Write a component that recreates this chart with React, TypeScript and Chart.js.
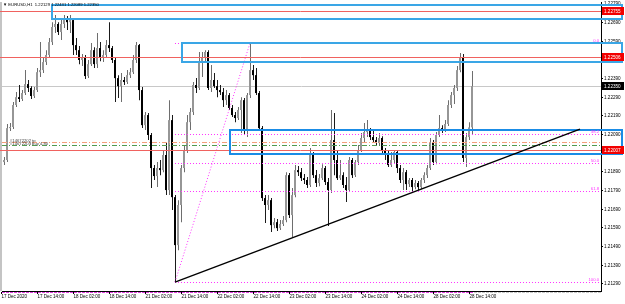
import React, { useEffect, useRef } from "react";
import { Chart, registerables } from "chart.js";
Chart.register(...registerables);

const symbol = "EURUSD,H1";

const opens = [
  1.21965, 1.21943, 1.21954, 1.22125, 1.22131, 1.22249, 1.22291, 1.22281, 1.22313, 1.22361,
  1.22340, 1.22297, 1.22329, 1.22425, 1.22436, 1.22479, 1.22517, 1.22586, 1.22667, 1.22683,
  1.22640, 1.22683, 1.22715, 1.22693, 1.22704, 1.22570, 1.22543, 1.22490, 1.22506, 1.22404,
  1.22468, 1.22543, 1.22468, 1.22554, 1.22501, 1.22517, 1.22570, 1.22554, 1.22490, 1.22393,
  1.22350, 1.22383, 1.22372, 1.22409, 1.22425, 1.22490, 1.22570, 1.22329, 1.22141, 1.22195,
  1.22088, 1.21911, 1.21868, 1.21911, 1.21900, 1.21981, 1.21793, 1.22168, 1.21755, 1.21498,
  1.21713, 1.21911, 1.22007, 1.22157, 1.22211, 1.22356, 1.22340, 1.22479, 1.22501, 1.22533,
  1.22340, 1.22383, 1.22350, 1.22329, 1.22318, 1.22275, 1.22302, 1.22233, 1.22195, 1.22179,
  1.22222, 1.22275, 1.22115, 1.22302, 1.22436, 1.22409, 1.22313, 1.22125, 1.21750, 1.21713,
  1.21739, 1.21605, 1.21621, 1.21589, 1.21611, 1.21632, 1.21873, 1.21659, 1.21766, 1.21900,
  1.21889, 1.21857, 1.21847, 1.21820, 1.21981, 1.21873, 1.21831, 1.21857, 1.21911, 1.21836,
  1.21793, 1.22061, 1.21954, 1.21857, 1.21873, 1.21820, 1.21793, 1.21954, 1.21873, 1.21943,
  1.22007, 1.22072, 1.22104, 1.22115, 1.22077, 1.22061, 1.22045, 1.22072, 1.22007, 1.21981,
  1.21927, 1.21954, 1.21997, 1.21911, 1.21847, 1.21889, 1.21825, 1.21847, 1.21809, 1.21831,
  1.21809, 1.21847, 1.21873, 1.21911, 1.22050, 1.21943, 1.22088, 1.22125, 1.22115, 1.22147,
  1.22249, 1.22302, 1.22340, 1.22436, 1.22506, 1.21965, 1.22077, 1.22129,
];

const highs = [
  1.21981, 1.21970, 1.22147, 1.22152, 1.22265, 1.22318, 1.22356, 1.22329, 1.22436, 1.22383,
  1.22350, 1.22345, 1.22447, 1.22586, 1.22501, 1.22543, 1.22608, 1.22693, 1.22731, 1.22693,
  1.22704, 1.22731, 1.22726, 1.22731, 1.22715, 1.22608, 1.22565, 1.22522, 1.22517, 1.22490,
  1.22581, 1.22559, 1.22635, 1.22586, 1.22543, 1.22597, 1.22693, 1.22565, 1.22501, 1.22409,
  1.22420, 1.22399, 1.22436, 1.22447, 1.22517, 1.22586, 1.22576, 1.22345, 1.22211, 1.22206,
  1.22099, 1.21927, 1.21943, 1.21954, 1.22007, 1.22045, 1.22275, 1.22195, 1.21766, 1.21739,
  1.21927, 1.22034, 1.22195, 1.22233, 1.22372, 1.22393, 1.22533, 1.22533, 1.22543, 1.22543,
  1.22463, 1.22420, 1.22383, 1.22356, 1.22340, 1.22329, 1.22313, 1.22249, 1.22211, 1.22238,
  1.22291, 1.22286, 1.22313, 1.22581, 1.22463, 1.22447, 1.22324, 1.22136, 1.21766, 1.21766,
  1.21750, 1.21643, 1.21638, 1.21632, 1.21654, 1.21889, 1.21884, 1.21804, 1.21927, 1.21922,
  1.21911, 1.21879, 1.21863, 1.22018, 1.21997, 1.21900, 1.21879, 1.21932, 1.21922, 1.21857,
  1.22222, 1.22206, 1.22007, 1.21954, 1.21889, 1.21863, 1.21970, 1.21965, 1.21954, 1.22034,
  1.22099, 1.22152, 1.22168, 1.22125, 1.22115, 1.22077, 1.22099, 1.22082, 1.22018, 1.22007,
  1.21997, 1.22007, 1.22007, 1.21927, 1.21911, 1.21900, 1.21857, 1.21857, 1.21847, 1.21841,
  1.21857, 1.21889, 1.21927, 1.22072, 1.22061, 1.22104, 1.22195, 1.22141, 1.22168, 1.22275,
  1.22318, 1.22356, 1.22458, 1.22527, 1.22522, 1.22099, 1.22157, 1.22431,
];

const lows = [
  1.21900, 1.21927, 1.21943, 1.22109, 1.22120, 1.22238, 1.22265, 1.22270, 1.22302, 1.22318,
  1.22281, 1.22286, 1.22318, 1.22399, 1.22420, 1.22463, 1.22506, 1.22570, 1.22635, 1.22624,
  1.22597, 1.22661, 1.22651, 1.22635, 1.22517, 1.22517, 1.22468, 1.22458, 1.22388, 1.22393,
  1.22458, 1.22447, 1.22447, 1.22484, 1.22479, 1.22501, 1.22533, 1.22474, 1.22265, 1.22286,
  1.22265, 1.22356, 1.22361, 1.22393, 1.22415, 1.22474, 1.22275, 1.22125, 1.22115, 1.22061,
  1.21804, 1.21847, 1.21809, 1.21873, 1.21889, 1.21766, 1.21766, 1.21686, 1.21300, 1.21471,
  1.21621, 1.21889, 1.21991, 1.22115, 1.22195, 1.22313, 1.22329, 1.22399, 1.22474, 1.22329,
  1.22318, 1.22340, 1.22291, 1.22302, 1.22238, 1.22249, 1.22222, 1.22184, 1.22157, 1.22168,
  1.22099, 1.22088, 1.22077, 1.22286, 1.22383, 1.22302, 1.22109, 1.21734, 1.21616, 1.21686,
  1.21568, 1.21589, 1.21573, 1.21579, 1.21600, 1.21621, 1.21643, 1.21541, 1.21755, 1.21868,
  1.21841, 1.21825, 1.21804, 1.21809, 1.21857, 1.21809, 1.21814, 1.21847, 1.21820, 1.21600,
  1.21777, 1.21873, 1.21847, 1.21847, 1.21804, 1.21729, 1.21782, 1.21857, 1.21863, 1.21927,
  1.21997, 1.22050, 1.22077, 1.22061, 1.22050, 1.22029, 1.22034, 1.21991, 1.21954, 1.21916,
  1.21916, 1.21938, 1.21884, 1.21831, 1.21793, 1.21793, 1.21809, 1.21782, 1.21798, 1.21793,
  1.21798, 1.21831, 1.21857, 1.21900, 1.21927, 1.21932, 1.22077, 1.22099, 1.22104, 1.22136,
  1.22233, 1.22254, 1.22324, 1.22425, 1.21943, 1.21916, 1.22061, 1.22089,
];

const closes = [
  1.21943, 1.21954, 1.22125, 1.22131, 1.22249, 1.22291, 1.22281, 1.22313, 1.22361, 1.22340,
  1.22297, 1.22329, 1.22425, 1.22436, 1.22479, 1.22517, 1.22586, 1.22667, 1.22683, 1.22640,
  1.22683, 1.22715, 1.22693, 1.22704, 1.22570, 1.22543, 1.22490, 1.22506, 1.22404, 1.22468,
  1.22543, 1.22468, 1.22554, 1.22501, 1.22517, 1.22570, 1.22554, 1.22490, 1.22393, 1.22350,
  1.22383, 1.22372, 1.22409, 1.22425, 1.22490, 1.22570, 1.22329, 1.22141, 1.22195, 1.22088,
  1.21911, 1.21868, 1.21911, 1.21900, 1.21981, 1.21793, 1.22168, 1.21755, 1.21498, 1.21713,
  1.21911, 1.22007, 1.22157, 1.22211, 1.22356, 1.22340, 1.22479, 1.22501, 1.22533, 1.22340,
  1.22383, 1.22350, 1.22329, 1.22318, 1.22275, 1.22302, 1.22233, 1.22195, 1.22179, 1.22222,
  1.22275, 1.22115, 1.22302, 1.22436, 1.22409, 1.22313, 1.22125, 1.21750, 1.21713, 1.21739,
  1.21605, 1.21621, 1.21589, 1.21611, 1.21632, 1.21873, 1.21659, 1.21766, 1.21900, 1.21889,
  1.21857, 1.21847, 1.21820, 1.21981, 1.21873, 1.21831, 1.21857, 1.21911, 1.21836, 1.21793,
  1.22061, 1.21954, 1.21857, 1.21873, 1.21820, 1.21793, 1.21954, 1.21873, 1.21943, 1.22007,
  1.22072, 1.22104, 1.22115, 1.22077, 1.22061, 1.22045, 1.22072, 1.22007, 1.21981, 1.21927,
  1.21954, 1.21997, 1.21911, 1.21847, 1.21889, 1.21825, 1.21847, 1.21809, 1.21831, 1.21809,
  1.21847, 1.21873, 1.21911, 1.22050, 1.21943, 1.22088, 1.22125, 1.22115, 1.22147, 1.22249,
  1.22302, 1.22340, 1.22436, 1.22506, 1.21965, 1.22077, 1.22129, 1.22350,
];

// time axis labels, one every 12 bars starting at bar 0
const timeLabels = [
  "17 Dec 2020", "17 Dec 14:00", "18 Dec 02:00", "18 Dec 14:00", "21 Dec 02:00",
  "21 Dec 14:00", "22 Dec 02:00", "22 Dec 14:00", "23 Dec 02:00", "23 Dec 14:00",
  "24 Dec 02:00", "24 Dec 14:00", "28 Dec 02:00", "28 Dec 14:00",
];
const barsPerLabel = 12;

const priceTicks = [
  1.2129, 1.2139, 1.2149, 1.2159, 1.2169, 1.2179, 1.2189, 1.2199,
  1.2209, 1.2219, 1.2229, 1.2239, 1.2249, 1.2259, 1.2269, 1.2279,
];
const priceMin = 1.21252;
const priceMax = 1.22801;
const barSlots = 199.667;

// horizontal levels
const redLevels = [1.22755, 1.22506, 1.22007];
const orderLevels = [1.2205, 1.22034];
const orderColors = ["#f4a07a", "#4f9a4f"];
const orderTexts = ["#14672202 tp", "#14672203 buy 4.80"];

// rectangles (bar index / price)
const zoneStart = [17, 60.5, 76.5];
const zoneEnd = [207, 207, 207];
const zoneTop = [1.22785, 1.22581, 1.22115];
const zoneBottom = [1.2271, 1.22479, 1.21986];
const zoneColors = ["#3aa6e6", "#3aa6e6", "#1a8ce6"];

// fibonacci retracement
const fibLowBar = 58;
const fibHighBar = 83;
const fibLevels = [0, 38.2, 50, 61.8, 100];

// trendline
const trendBars = [58, 193];
const trendPrices = [1.213, 1.2212];

const FONT = "'Liberation Sans', Arial, sans-serif";
const WICK_SHIFT = 1 / 6; // half a pixel, keeps the 1px wick on a pixel column

function crisp(v: number) {
  return Math.round(v) + 0.5;
}

const overlayPlugin = {
  id: "mtOverlay",
  beforeDatasetsDraw(chart: any) {
    const { ctx, chartArea: a } = chart;
    const ys = chart.scales.y;
    ctx.save();
    ctx.fillStyle = "#c4c4c4";
    ctx.fillRect(0, a.top, a.left, a.bottom - a.top);
    const by = crisp(ys.getPixelForValue(closes[closes.length - 1]));
    ctx.strokeStyle = "#c8c8c8";
    ctx.lineWidth = 1;
    ctx.beginPath();
    ctx.moveTo(a.left, by);
    ctx.lineTo(a.right, by);
    ctx.stroke();
    ctx.restore();
  },
  afterDatasetsDraw(chart: any) {
    const { ctx, chartArea: a } = chart;
    const xs = chart.scales.x;
    const ys = chart.scales.y;
    const X = (v: number) => xs.getPixelForValue(v);
    const Y = (v: number) => ys.getPixelForValue(v);
    ctx.save();

    // fibonacci levels
    const fLow = lows[fibLowBar];
    const fHigh = highs[fibHighBar];
    ctx.strokeStyle = "#ff33ff";
    ctx.lineWidth = 1;
    ctx.setLineDash([1, 2]);
    fibLevels.forEach((lv) => {
      const p = fHigh - ((fHigh - fLow) * lv) / 100;
      const y = crisp(Y(p));
      ctx.beginPath();
      ctx.moveTo(X(fibLowBar), y);
      ctx.lineTo(a.right, y);
      ctx.stroke();
    });
    ctx.beginPath();
    ctx.moveTo(X(fibLowBar), Y(fLow));
    ctx.lineTo(X(fibHighBar), Y(fHigh));
    ctx.stroke();

    // order lines
    ctx.setLineDash([5, 2, 1, 2]);
    orderLevels.forEach((p, k) => {
      const y = crisp(Y(p));
      ctx.strokeStyle = orderColors[k];
      ctx.beginPath();
      ctx.moveTo(a.left, y);
      ctx.lineTo(a.right, y);
      ctx.stroke();
    });
    ctx.setLineDash([]);

    // red levels
    ctx.strokeStyle = "#f0625f";
    redLevels.forEach((p) => {
      const y = crisp(Y(p));
      ctx.beginPath();
      ctx.moveTo(a.left - 2, y);
      ctx.lineTo(a.right, y);
      ctx.stroke();
    });

    // rectangles
    ctx.lineWidth = 2;
    zoneStart.forEach((s, k) => {
      const x1 = Math.round(X(s));
      const x2 = Math.round(X(zoneEnd[k]));
      const y1 = Math.round(Y(zoneTop[k]));
      const y2 = Math.round(Y(zoneBottom[k]));
      ctx.strokeStyle = zoneColors[k];
      ctx.strokeRect(x1, y1, x2 - x1, y2 - y1);
    });

    // trendline
    ctx.strokeStyle = "#000";
    ctx.lineWidth = 1.4;
    ctx.beginPath();
    ctx.moveTo(X(trendBars[0]), Y(trendPrices[0]));
    ctx.lineTo(X(trendBars[1]), Y(trendPrices[1]));
    ctx.stroke();
    ctx.restore();
  },
  afterDraw(chart: any) {
    const { ctx, chartArea: a } = chart;
    const xs = chart.scales.x;
    const ys = chart.scales.y;
    const X = (v: number) => xs.getPixelForValue(v);
    const Y = (v: number) => ys.getPixelForValue(v);
    ctx.save();

    // fib labels
    const fLow = lows[fibLowBar];
    const fHigh = highs[fibHighBar];
    ctx.font = `4.2px ${FONT}`;
    ctx.fillStyle = "#ff33ff";
    ctx.textAlign = "right";
    ctx.textBaseline = "alphabetic";
    fibLevels.forEach((lv) => {
      const p = fHigh - ((fHigh - fLow) * lv) / 100;
      ctx.fillText(lv.toFixed(1), a.right - 2, Y(p) - 1);
    });

    // order texts
    ctx.textAlign = "left";
    ctx.fillStyle = "#404040";
    orderLevels.forEach((p, k) => {
      ctx.fillText(orderTexts[k], a.left + 8, Y(p) - 0.5);
    });

    // bottom strip
    const lastX = X(closes.length - 1) + 2;
    ctx.lineWidth = 1;
    ctx.setLineDash([3, 1]);
    ctx.strokeStyle = "#e040e0";
    ctx.beginPath();
    ctx.moveTo(a.left, a.bottom + 1.5);
    ctx.lineTo(lastX, a.bottom + 1.5);
    ctx.stroke();
    ctx.strokeStyle = "#c8c8c8";
    ctx.beginPath();
    ctx.moveTo(lastX, a.bottom + 1.5);
    ctx.lineTo(a.right, a.bottom + 1.5);
    ctx.stroke();
    ctx.setLineDash([]);

    // price labels on the axis
    ctx.font = `4.6px ${FONT}`;
    ctx.textBaseline = "middle";
    const tag = (p: number, bg: string) => {
      const y = Math.round(Y(p));
      ctx.fillStyle = bg;
      ctx.fillRect(a.right + 1, y - 4, 22, 8);
      ctx.fillStyle = "#fff";
      ctx.fillText(p.toFixed(5), a.right + 3, y + 0.5);
    };
    redLevels.forEach((p) => tag(p, "#f20000"));
    tag(closes[closes.length - 1], "#000");

    // title
    const n = closes.length - 1;
    ctx.fillStyle = "#000";
    ctx.font = `4.2px ${FONT}`;
    ctx.textBaseline = "middle";
    ctx.fillText(
      `\u25BC ${symbol}  ${opens[n].toFixed(5)} ${highs[n].toFixed(5)} ${lows[n].toFixed(5)} ${closes[n].toFixed(5)}`,
      a.left + 1,
      a.top + 3
    );
    ctx.restore();
  },
};

export default function App() {
  const ref = useRef<HTMLCanvasElement | null>(null);
  useEffect(() => {
    document.body.style.margin = "0";
    const canvas = ref.current;
    if (!canvas) return;
    const bull = opens.map((o, i) => closes[i] >= o);
    const chart = new Chart(canvas, {
      type: "bar",
      data: {
        datasets: [
          {
            label: "wick",
            data: lows.map((l, i) => ({ x: i + WICK_SHIFT, y: [l, highs[i]] })) as any,
            backgroundColor: bull.map((b) => (b ? "#6e6e6e" : "#1a1a1a")),
            barThickness: 1,
            grouped: false,
            order: 2,
            inflateAmount: 0,
          } as any,
          {
            label: "body",
            data: opens.map((o, i) => ({ x: i, y: [o, closes[i]] })) as any,
            backgroundColor: bull.map((b) => (b ? "#969696" : "#000000")),
            borderWidth: 0,
            borderSkipped: false,
            barThickness: 2,
            grouped: false,
            order: 1,
            inflateAmount: 0,
          } as any,
        ],
      },
      options: {
        responsive: false,
        maintainAspectRatio: false,
        animation: false,
        devicePixelRatio: 1,
        events: [],
        layout: { padding: { left: 2, top: 2, right: 0, bottom: 0 } },
        plugins: { legend: { display: false }, tooltip: { enabled: false } },
        scales: {
          x: {
            type: "linear",
            offset: false,
            min: 1 / 3,
            max: 1 / 3 + barSlots,
            afterBuildTicks: (s: any) => {
              s.ticks = timeLabels.map((_, k) => ({ value: k * barsPerLabel + WICK_SHIFT }));
            },
            afterFit: (s: any) => {
              s.height = 13;
              s.paddingLeft = 0;
              s.paddingRight = 0;
            },
            ticks: {
              autoSkip: false,
              maxRotation: 0,
              minRotation: 0,
              align: "start",
              padding: 0,
              color: "#000",
              font: { size: 4.5, family: FONT },
              callback: (v: any) => timeLabels[Math.round(Number(v) / barsPerLabel)] ?? "",
            },
            grid: { display: true, drawOnChartArea: false, tickLength: 3, color: "#000", offset: false },
            border: { display: true, color: "#000" },
          },
          y: {
            type: "linear",
            position: "right",
            min: priceMin,
            max: priceMax,
            afterBuildTicks: (s: any) => {
              s.ticks = priceTicks.map((v) => ({ value: v }));
            },
            afterFit: (s: any) => {
              s.width = 24;
              s.paddingTop = 0;
              s.paddingBottom = 0;
            },
            ticks: {
              autoSkip: false,
              padding: 1,
              color: "#000",
              font: { size: 4.6, family: FONT },
              callback: (v: any) => Number(v).toFixed(5),
            },
            grid: { display: true, drawOnChartArea: false, tickLength: 2, color: "#000" },
            border: { display: true, color: "#000" },
          },
        },
      } as any,
      plugins: [overlayPlugin as any],
    });
    return () => chart.destroy();
  }, []);
  return (
    <div style={{ position: "fixed", left: 0, top: 0, width: 625, height: 304, background: "#fff" }}>
      <canvas ref={ref} width={625} height={304} style={{ display: "block", width: 625, height: 304 }} />
    </div>
  );
}
